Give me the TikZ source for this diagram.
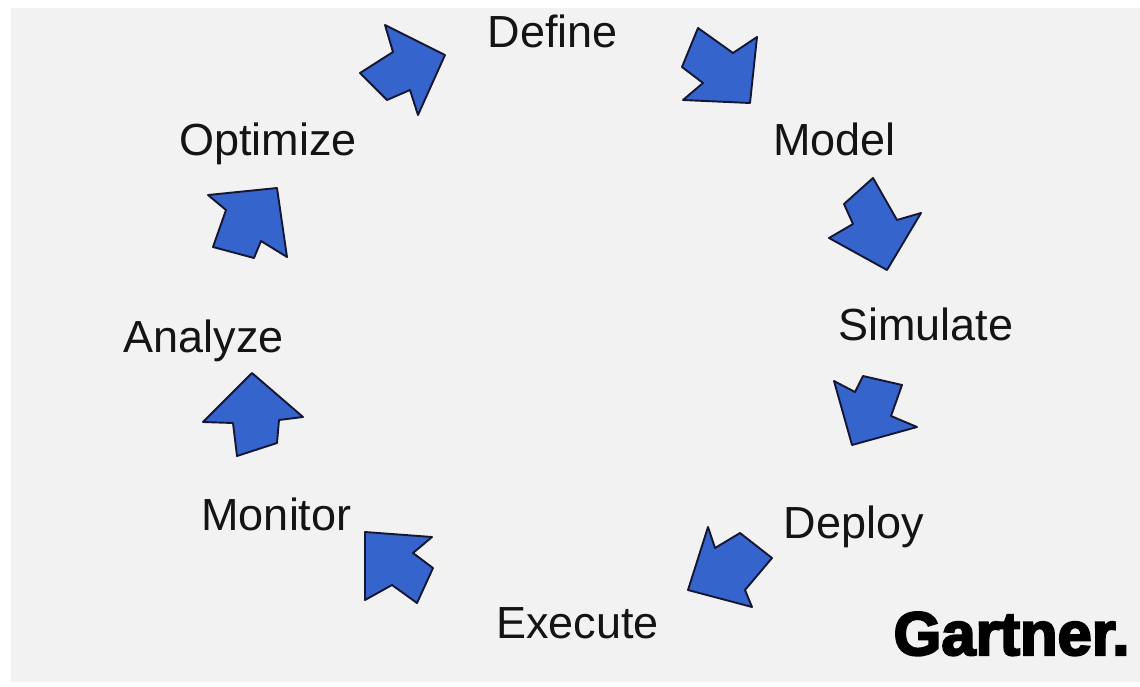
\documentclass[tikz,border=0pt]{standalone}
\usepackage{fontspec}
\setmainfont{Liberation Sans}
\newfontfamily\logofont[FakeBold=3.5]{Liberation Sans Bold}
\definecolor{arrowblue}{RGB}{54,100,205}
\definecolor{arrowline}{RGB}{20,22,50}
\definecolor{bggrey}{RGB}{242,242,242}
\definecolor{txt}{RGB}{20,20,20}
\tikzset{
  cyclearrow/.style={fill=arrowblue, draw=arrowline, line width=1.9pt, line join=round},
  lbl/.style={inner sep=0pt, anchor=base, text=txt, font=\fontsize{45}{54}\selectfont},
  logo/.style={inner sep=0pt, anchor=base, text=black, font=\logofont\fontsize{61.5}{66}\selectfont}
}
\begin{document}
\begin{tikzpicture}[x=1pt,y=-1pt]
\useasboundingbox (0,0) rectangle (1140,686);
\fill[white] (0,0) rectangle (1140,686);
\fill[bggrey] (11,8) rectangle (1140,682);

% labels
\node[lbl] (define)   at (553,47)   {Define};
\node[lbl] (model)    at (834.5,155) {Model};
\node[lbl] (simulate) at (926,340)  {Simulate};
\node[lbl] (deploy)   at (854,538)  {Deploy};
\node[lbl] (execute)  at (577.5,638) {Execute};
\node[lbl] (monitor)  at (276.5,530) {Monitor};
\node[lbl] (analyze)  at (203.5,352) {Analyze};
\node[lbl] (optimize) at (268,155)  {Optimize};
\node[logo] (gartner) at (1011.5,655) {Gartner.};

% block arrows of the cycle
\path[cyclearrow] (385,25) -- (393,52) -- (360,73) -- (387,100) -- (410,90) -- (418,115) -- (445,55) -- cycle;
\path[cyclearrow] (698,28) -- (733,53) -- (757,37) -- (750,103) -- (683,100) -- (703,83) -- (682,67) -- cycle;
\path[cyclearrow] (873,178) -- (844,204) -- (853,224) -- (829,238) -- (887,270) -- (921,213) -- (897,220) -- cycle;
\path[cyclearrow] (834,381) -- (855,392) -- (863,376) -- (902,385) -- (891,416) -- (917,427) -- (852,445) -- cycle;
\path[cyclearrow] (708,527) -- (715,548) -- (740,533) -- (772,558) -- (745,590) -- (752,607) -- (688,590) -- cycle;
\path[cyclearrow] (365,532) -- (432,537) -- (413,553) -- (433,568) -- (417,603) -- (392,585) -- (365,600) -- cycle;
\path[cyclearrow] (252,373) -- (303,417) -- (279,420) -- (277,443) -- (237,456) -- (233,423) -- (203,422) -- cycle;
\path[cyclearrow] (208,195) -- (277,188) -- (287,257) -- (261,241) -- (254,258) -- (213,247) -- (226,210) -- cycle;
\end{tikzpicture}
\end{document}
